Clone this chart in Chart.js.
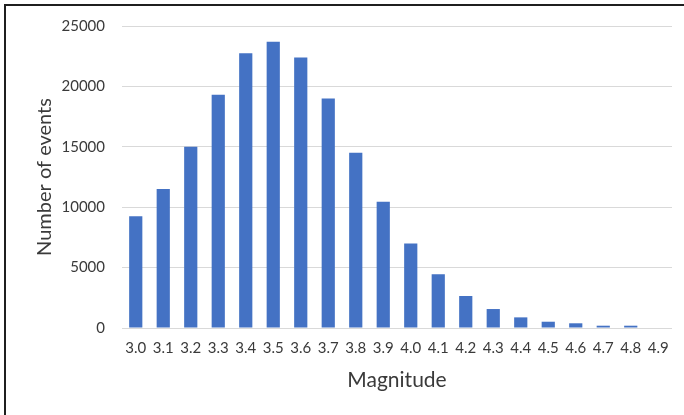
<!DOCTYPE html>
<html>
<head>
<meta charset="utf-8">
<title>Magnitude distribution</title>
<script src="https://cdn.jsdelivr.net/npm/chart.js@4.4.1/dist/chart.umd.min.js"></script>
<style>
  html, body { margin: 0; padding: 0; background: #ffffff; }
  #chart-container { position: relative; width: 684px; height: 415px; }
  #frame {
    position: absolute; left: 4px; top: 4px; right: 0; bottom: 0;
    border-top: 2px solid #1f1f1f; border-left: 2px solid #1f1f1f;
    pointer-events: none;
  }
</style>
</head>
<body>
<div id="chart-container">
  <canvas id="myChart" width="684" height="415"></canvas>
  <div id="frame"></div>
</div>
<script>
const magnitudes = ['3.0', '3.1', '3.2', '3.3', '3.4', '3.5', '3.6', '3.7', '3.8', '3.9',
                    '4.0', '4.1', '4.2', '4.3', '4.4', '4.5', '4.6', '4.7', '4.8', '4.9'];
const eventCounts = [9250, 11500, 15000, 19300, 22750, 23700, 22400, 19000, 14500, 10450,
                     7000, 4450, 2650, 1570, 880, 520, 390, 190, 190, 0];
const yMax = 25000;
const yStep = 5000;

const barColor = '#4472c4';
const textColor = '#3a3a3a';
const gridColor = '#d9d9d9';
const fontFamily = 'Lato, "Liberation Sans", sans-serif';

window.addEventListener('load', () => {
  const canvas = document.getElementById('myChart');
  makeHistogramChart(canvas, magnitudes, eventCounts);
});

function makeHistogramChart(canvas, labels, counts) {
  const config = {
    type: 'bar',
    data: {
      labels,
      datasets: [
        {
          label: 'Number of events',
          data: counts,
          backgroundColor: barColor,
          borderWidth: 0,
          categoryPercentage: 1,
          barPercentage: 0.48
        }
      ]
    },
    options: {
      responsive: false,
      animation: false,
      layout: {
        padding: { left: 0, top: 26, right: 12, bottom: 0 }
      },
      plugins: {
        legend: { display: false },
        tooltip: { enabled: false }
      },
      scales: {
        x: {
          grid: { display: false, drawTicks: false },
          border: { display: false },
          ticks: {
            color: textColor,
            padding: 11,
            maxRotation: 0,
            autoSkip: false,
            font: { family: fontFamily, size: 15 }
          },
          title: {
            display: true,
            text: 'Magnitude',
            color: textColor,
            font: { family: fontFamily, size: 21 },
            padding: { top: 0, bottom: 22 }
          },
          afterFit: scale => { scale.height = 87; }
        },
        y: {
          min: 0,
          max: yMax,
          grid: { color: gridColor, lineWidth: 1, drawTicks: false },
          border: { display: false },
          ticks: {
            stepSize: yStep,
            color: textColor,
            padding: 17,
            font: { family: fontFamily, size: 15 },
            callback: value => String(value)
          },
          title: {
            display: true,
            text: 'Number of events',
            color: textColor,
            font: { family: fontFamily, size: 20 },
            padding: { top: 33, bottom: 0 }
          },
          afterFit: scale => { scale.width = 122; }
        }
      }
    }
  };
  const chart = new Chart(canvas.getContext('2d'), config);
}
</script>
</body>
</html>
